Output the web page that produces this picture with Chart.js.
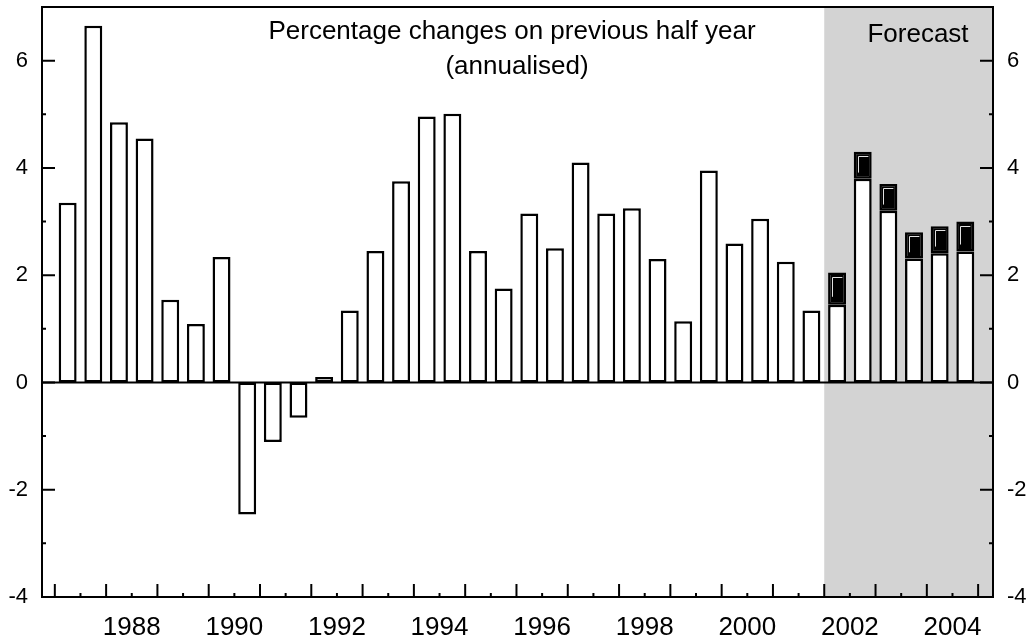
<!DOCTYPE html>
<html>
<head>
<meta charset="utf-8">
<script src="https://cdn.jsdelivr.net/npm/chart.js@4"></script>
<style>
  html, body { margin: 0; padding: 0; background: #fff; }
  #wrap { width: 1031px; height: 643px; }
</style>
</head>
<body>
<div id="wrap"><canvas id="growthChart" width="1031" height="643"></canvas></div>
<script>
// Half-year periods, 1987 H1 .. 2004 H2
const years = [1987, 1988, 1989, 1990, 1991, 1992, 1993, 1994, 1995,
               1996, 1997, 1998, 1999, 2000, 2001, 2002, 2003, 2004];

// Outturn / central part of each bar (white)
const baseValues = [
    3.35, 6.65, 4.85, 4.55, 1.54, 1.09, 2.34, -2.46, -1.11, -0.66,
    0.10, 1.34, 2.45, 3.75, 4.96, 5.01, 2.45, 1.75, 3.15, 2.50,
    4.10, 3.15, 3.25, 2.30, 1.14, 3.95, 2.59, 3.05, 2.25, 1.34,
    1.45, 3.80, 3.20, 2.31, 2.41, 2.44
];

// Extra forecast part on top (black), only for the forecast half years
const forecastExtra = [
    null, null, null, null, null, null, null, null, null, null,
    null, null, null, null, null, null, null, null, null, null,
    null, null, null, null, null, null, null, null, null, null,
    0.60, 0.50, 0.50, 0.49, 0.50, 0.56
];

const forecastStart = 2002;
const yTicks = [-4, -2, 0, 2, 4, 6];
const yMinorTicks = [-3, -1, 1, 3, 5];
const yearLabels = [1988, 1990, 1992, 1994, 1996, 1998, 2000, 2002, 2004];

// x position of each half year on the linear axis (middle of the half)
const periods = [];
years.forEach(y => { periods.push(y + 0.25); periods.push(y + 0.75); });

const FONT = '"Liberation Sans", Arial, sans-serif';

const framePlugin = {
    id: 'frame',
    beforeDatasetsDraw(chart) {
        const { ctx, chartArea: a, scales: { x } } = chart;
        const fx = x.getPixelForValue(forecastStart);
        ctx.save();
        ctx.fillStyle = '#d3d3d3';
        ctx.fillRect(fx, a.top, a.right - fx, a.bottom - a.top);
        ctx.restore();
    },
    afterDatasetsDraw(chart) {
        const { ctx, chartArea: a, scales: { x, y } } = chart;
        ctx.save();

        // highlight inside the black forecast blocks
        const meta = chart.getDatasetMeta(1);
        ctx.strokeStyle = '#e0e0e0';
        ctx.lineWidth = 1;
        meta.data.forEach((bar, i) => {
            if (forecastExtra[i] == null) return;
            const p = bar.getProps(['x', 'y', 'base', 'width'], true);
            const l = Math.round(p.x - p.width / 2 + 4) + 0.5;
            const t = Math.round(p.y + 4) + 0.5;
            const h = (p.base - p.y) * 0.6;
            ctx.beginPath();
            ctx.moveTo(l, t + h);
            ctx.lineTo(l, t);
            ctx.lineTo(l + p.width * 0.55, t);
            ctx.stroke();
        });

        ctx.strokeStyle = '#000';
        ctx.lineWidth = 2;

        // zero line
        const y0 = y.getPixelForValue(0);
        ctx.beginPath();
        ctx.moveTo(a.left, y0);
        ctx.lineTo(a.right, y0);
        ctx.stroke();

        // frame
        ctx.strokeRect(a.left, a.top, a.right - a.left, a.bottom - a.top);

        // inward tick marks on both y axes
        const tick = (v, len) => {
            const py = y.getPixelForValue(v);
            ctx.beginPath();
            ctx.moveTo(a.left, py); ctx.lineTo(a.left + len, py);
            ctx.moveTo(a.right, py); ctx.lineTo(a.right - len, py);
            ctx.stroke();
        };
        yTicks.forEach(v => tick(v, 13));
        yMinorTicks.forEach(v => tick(v, 4));

        // inward tick marks on x axis: long at year starts, short at mid year
        for (let yr = years[0]; yr <= years[years.length - 1] + 1; yr++) {
            const px = x.getPixelForValue(yr);
            ctx.beginPath();
            ctx.moveTo(px, a.bottom); ctx.lineTo(px, a.bottom - 13);
            ctx.stroke();
            if (yr <= years[years.length - 1]) {
                const pm = x.getPixelForValue(yr + 0.5);
                ctx.beginPath();
                ctx.moveTo(pm, a.bottom); ctx.lineTo(pm, a.bottom - 4);
                ctx.stroke();
            }
        }

        // texts inside the plot
        ctx.fillStyle = '#000';
        ctx.textBaseline = 'alphabetic';
        ctx.textAlign = 'center';
        ctx.font = '26px ' + FONT;
        ctx.fillText('Percentage changes on previous half year', 512, 39);
        ctx.fillText('(annualised)', 517, 74);
        ctx.fillText('Forecast', 918, 42);
        ctx.restore();
    }
};

// keep the plot area where the reference has it
const noPad = s => { s.paddingTop = 0; s.paddingBottom = 0; s.paddingLeft = 0; s.paddingRight = 0; };

const ctx = document.getElementById('growthChart').getContext('2d');

new Chart(ctx, {
    type: 'bar',
    data: {
        datasets: [
            {
                label: 'Outturn',
                data: periods.map((p, i) => ({ x: p, y: baseValues[i] })),
                backgroundColor: '#ffffff',
                borderColor: '#000000',
                borderWidth: 2.5,
                borderSkipped: false,
                barPercentage: 0.7,
                categoryPercentage: 1
            },
            {
                label: 'Forecast range',
                data: periods.map((p, i) => ({ x: p, y: forecastExtra[i] })),
                backgroundColor: '#000000',
                borderColor: '#000000',
                borderWidth: 2.5,
                borderSkipped: false,
                barPercentage: 0.7,
                categoryPercentage: 1
            }
        ]
    },
    options: {
        responsive: false,
        animation: false,
        layout: { padding: { top: 7, left: 0, right: 0, bottom: 0 } },
        plugins: {
            legend: { display: false },
            tooltip: { enabled: false }
        },
        scales: {
            x: {
                type: 'linear',
                stacked: true,
                offset: false,
                min: 1986.75,
                max: 2005.29,
                grid: { display: false, drawTicks: false },
                border: { display: false },
                afterFit: s => { noPad(s); s.height = 46; },
                afterBuildTicks: s => { s.ticks = yearLabels.map(v => ({ value: v + 0.5 })); },
                ticks: {
                    autoSkip: false,
                    maxRotation: 0,
                    padding: 15,
                    color: '#000',
                    font: { family: FONT, size: 26 },
                    callback: v => String(Math.floor(v))
                }
            },
            y: {
                stacked: true,
                position: 'left',
                min: -4,
                max: 7,
                grid: { display: false, drawTicks: false },
                border: { display: false },
                afterFit: s => { noPad(s); s.width = 42; },
                afterBuildTicks: s => { s.ticks = yTicks.map(v => ({ value: v })); },
                ticks: {
                    padding: 14,
                    color: '#000',
                    font: { family: FONT, size: 22 }
                }
            },
            y2: {
                display: true,
                position: 'right',
                min: -4,
                max: 7,
                grid: { display: false, drawTicks: false },
                border: { display: false },
                afterFit: s => { noPad(s); s.width = 38; },
                afterBuildTicks: s => { s.ticks = yTicks.map(v => ({ value: v })); },
                ticks: {
                    padding: 14,
                    color: '#000',
                    font: { family: FONT, size: 22 }
                }
            }
        }
    },
    plugins: [framePlugin]
});
</script>
</body>
</html>
